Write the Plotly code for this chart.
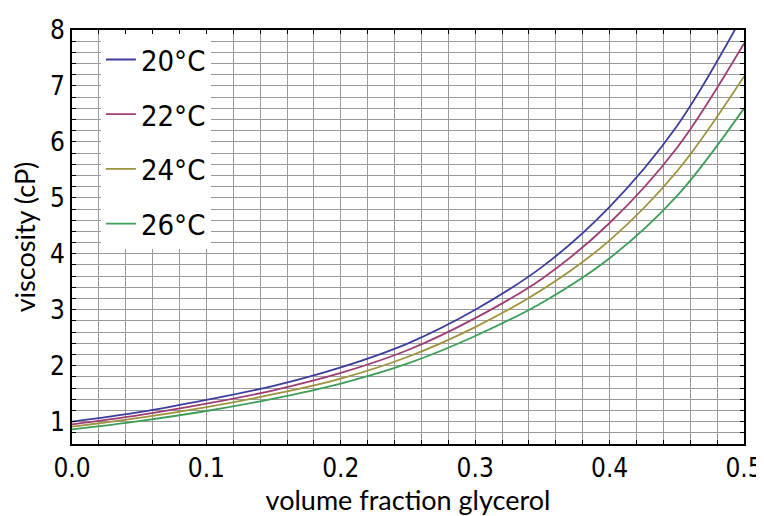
import plotly.graph_objects as go

fraction = [0, 0.05, 0.1, 0.15, 0.2, 0.25, 0.3, 0.35, 0.4, 0.45, 0.5]
visc_20 = [1.00, 1.17, 1.39, 1.64, 1.97, 2.40, 3.00, 3.77, 4.84, 6.28, 8.30]
visc_22 = [0.95, 1.115, 1.32, 1.56, 1.87, 2.28, 2.85, 3.56, 4.55, 5.89, 7.76]
visc_24 = [0.91, 1.066, 1.26, 1.49, 1.77, 2.16, 2.69, 3.36, 4.24, 5.47, 7.17]
visc_26 = [0.86, 1.01, 1.19, 1.41, 1.68, 2.04, 2.53, 3.13, 3.92, 5.03, 6.60]
series_names = ["20°C", "22°C", "24°C", "26°C"]
series_colors = ["#3d3d9e", "#9e3d74", "#9e923d", "#3d9e58"]

x_ticks = [round(i * 0.02, 2) for i in range(26)]
x_labels = [f"{v:.1f}" if i % 5 == 0 else "" for i, v in enumerate(x_ticks)]
y_ticks = [round(0.6 + i * 0.2, 1) for i in range(38)]
y_labels = [str(int(round(v))) if abs(v - round(v)) < 1e-6 else "" for v in y_ticks]

narrow = "Liberation Sans Narrow, Arial Narrow, DejaVu Sans Condensed, sans-serif"
tick_font = dict(family=narrow, size=26, color="black")
title_font = dict(family="Lato, Carlito, Calibri, sans-serif", size=27, color="black")

fig = go.Figure()
for name, vals, col in zip(series_names, [visc_20, visc_22, visc_24, visc_26], series_colors):
    fig.add_trace(go.Scatter(x=fraction, y=vals, mode="lines", name=name,
                             legendgroup=name,
                             line=dict(color=col, width=1.8, shape="spline", smoothing=1.0)))

# page body has an 8px default margin, so the figure is 8px smaller than the window
fig.update_layout(
    width=756, height=508,
    margin=dict(l=64, r=20, t=22, b=72, autoexpand=False),
    paper_bgcolor="white", plot_bgcolor="white",
    showlegend=True,
    legend=dict(x=0.043, y=0.99, xanchor="left", yanchor="top",
                bgcolor="white", borderwidth=0,
                font=dict(family=narrow, size=29, color="black"),
                traceorder="grouped", tracegroupgap=14, itemwidth=30),
)
fig.update_xaxes(
    range=[0, 0.5], tickmode="array", tickvals=x_ticks, ticktext=x_labels,
    showgrid=True, gridcolor="#9a9a9a", gridwidth=1,
    ticks="inside", ticklen=4, tickcolor="black", tickwidth=1,
    showline=True, linecolor="black", linewidth=2, mirror="allticks",
    zeroline=False, tickfont=tick_font,
    title=dict(text="volume fraction glycerol", font=title_font, standoff=2),
)
fig.update_yaxes(
    range=[0.6, 8], tickmode="array", tickvals=y_ticks, ticktext=y_labels,
    showgrid=True, gridcolor="#9a9a9a", gridwidth=1,
    ticks="inside", ticklen=4, tickcolor="black", tickwidth=1,
    showline=True, linecolor="black", linewidth=2, mirror="allticks",
    zeroline=False, tickfont=tick_font,
    title=dict(text="viscosity (cP)", font=title_font, standoff=6),
)

fig.write_html("out.html")
